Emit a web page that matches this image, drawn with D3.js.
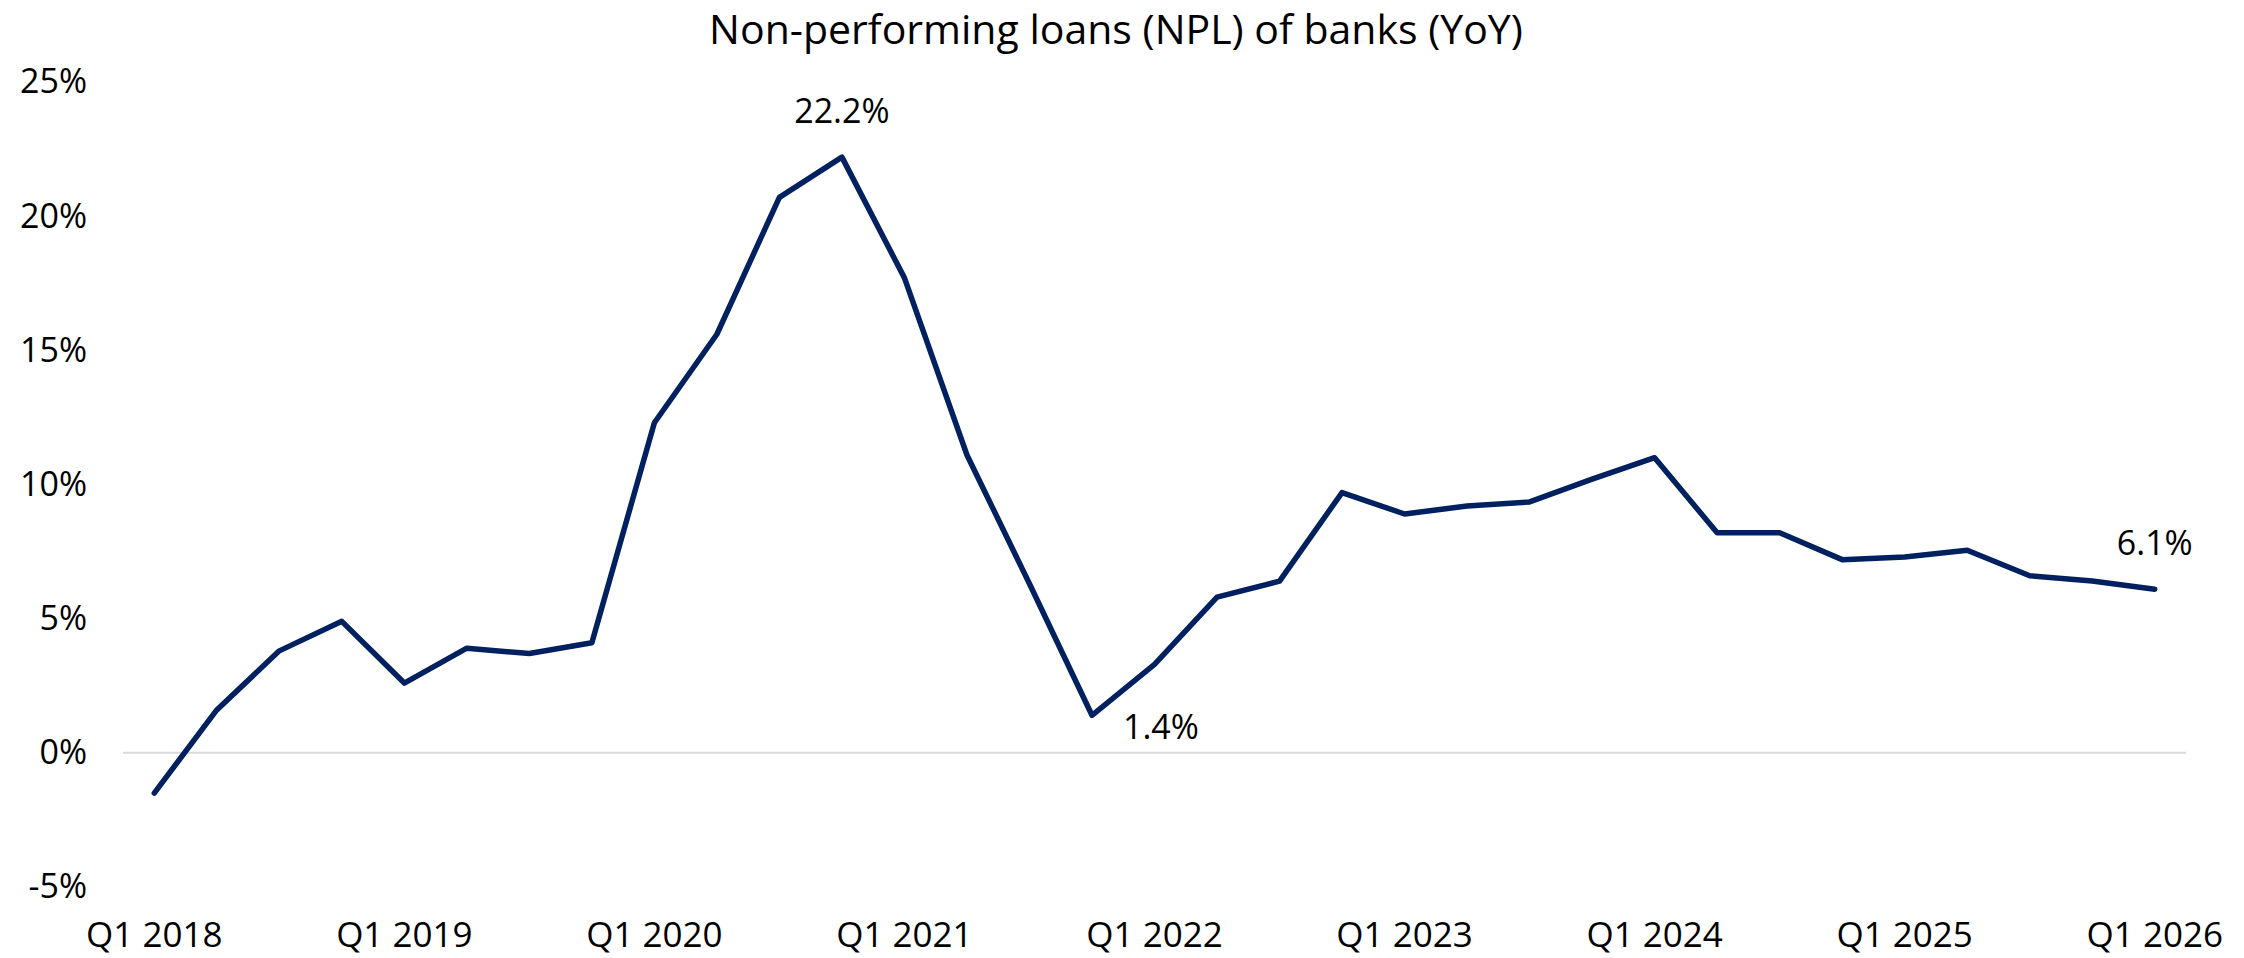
<!DOCTYPE html>
<html>
<head>
<meta charset="utf-8">
<script src="https://cdn.jsdelivr.net/npm/d3@7"></script>
<style>
  body { margin: 0; background: #fff; }
  svg { display: block; font-family: "Open Sans", "Noto Sans", sans-serif; }
</style>
</head>
<body>
<svg width="2244" height="958"></svg>
<script>
var quarters = [
  "Q1 2018", "Q2 2018", "Q3 2018", "Q4 2018",
  "Q1 2019", "Q2 2019", "Q3 2019", "Q4 2019",
  "Q1 2020", "Q2 2020", "Q3 2020", "Q4 2020",
  "Q1 2021", "Q2 2021", "Q3 2021", "Q4 2021",
  "Q1 2022", "Q2 2022", "Q3 2022", "Q4 2022",
  "Q1 2023", "Q2 2023", "Q3 2023", "Q4 2023",
  "Q1 2024", "Q2 2024", "Q3 2024", "Q4 2024",
  "Q1 2025", "Q2 2025", "Q3 2025", "Q4 2025",
  "Q1 2026"
];

// NPL growth YoY, %
var nplYoY = [
  -1.5, 1.6, 3.8, 4.9,
  2.6, 3.9, 3.7, 4.1,
  12.3, 15.6, 20.7, 22.2,
  17.7, 11.1, 6.3, 1.4,
  3.3, 5.8, 6.4, 9.7,
  8.9, 9.2, 9.35, 10.2,
  11.0, 8.2, 8.2, 7.2,
  7.3, 7.55, 6.6, 6.4,
  6.1
];

var xTickLabels = ["Q1 2018", "Q1 2019", "Q1 2020", "Q1 2021", "Q1 2022", "Q1 2023", "Q1 2024", "Q1 2025", "Q1 2026"];
var yTicks = [-5, 0, 5, 10, 15, 20, 25];

// points that carry a value label
var labelledPoints = ["Q4 2020", "Q4 2021", "Q1 2026"];

var title = "Non-performing loans (NPL) of banks (YoY)";

var svg = d3.select("svg"),
    margin = {top: 82, right: 58, bottom: 71, left: 123},
    width = +svg.attr("width") - margin.left - margin.right,
    height = +svg.attr("height") - margin.top - margin.bottom;

var data = quarters.map(function(q, i) { return {q: q, v: nplYoY[i]}; });

var x = d3.scaleBand().domain(quarters).range([0, width]).paddingInner(0).paddingOuter(0),
    y = d3.scaleLinear().domain([-5, 25]).range([height, 0]);

function cx(q) { return x(q) + x.bandwidth() / 2; }

var g = svg.append("g")
    .attr("transform", "translate(" + margin.left + "," + margin.top + ")");

// zero line
g.append("line")
    .attr("x1", 0)
    .attr("x2", width)
    .attr("y1", y(0))
    .attr("y2", y(0))
    .attr("stroke", "#d9d9d9")
    .attr("stroke-width", 2);

var yAxis = d3.axisLeft(y)
    .tickValues(yTicks)
    .tickFormat(function(d) { return d + "%"; })
    .tickSize(0)
    .tickPadding(36);

var yAxisGroup = g.append("g").attr("class", "yAxis").call(yAxis);

var xAxis = d3.axisBottom(x)
    .tickValues(xTickLabels)
    .tickSize(0)
    .tickPadding(35);

var xAxisGroup = g.append("g")
    .attr("class", "xAxis")
    .attr("transform", "translate(0," + height + ")")
    .call(xAxis);

svg.selectAll(".domain").remove();
svg.selectAll(".tick text")
    .attr("font-family", "'Open Sans', 'Noto Sans', sans-serif")
    .attr("font-size", 34)
    .attr("fill", "#000");
xAxisGroup.selectAll(".tick text").attr("font-size", 35);

var line = d3.line()
    .x(function(d) { return cx(d.q); })
    .y(function(d) { return y(d.v); });

g.append("path")
    .datum(data)
    .attr("fill", "none")
    .attr("stroke", "#002060")
    .attr("stroke-width", 5.5)
    .attr("stroke-linejoin", "round")
    .attr("stroke-linecap", "round")
    .attr("d", line);

// value labels
var lab = data.filter(function(d) { return labelledPoints.indexOf(d.q) >= 0; });
g.selectAll(".vlabel")
    .data(lab)
    .enter().append("text")
    .attr("class", "vlabel")
    .attr("font-size", 34)
    .attr("fill", "#000")
    .attr("text-anchor", function(d) { return d.q == "Q4 2021" ? "start" : "middle"; })
    .attr("x", function(d) { return d.q == "Q4 2021" ? cx(d.q) + 31 : cx(d.q); })
    .attr("y", function(d) { return d.q == "Q4 2021" ? y(d.v) + 24 : y(d.v) - 34; })
    .text(function(d) { return d.v.toFixed(1) + "%"; });

svg.append("text")
    .attr("x", 1116)
    .attr("y", 44)
    .attr("text-anchor", "middle")
    .attr("font-size", 41)
    .attr("fill", "#000")
    .text(title);
</script>
</body>
</html>
